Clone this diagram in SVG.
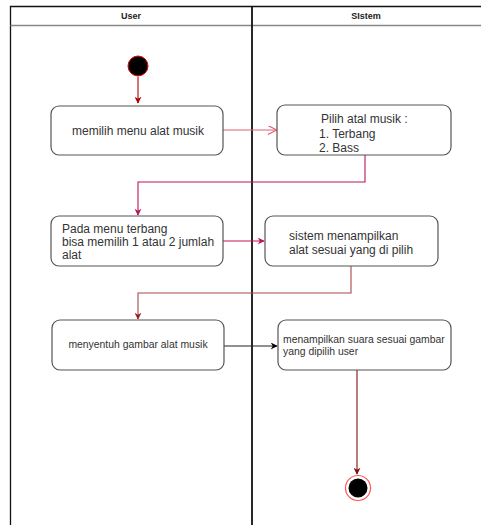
<svg xmlns="http://www.w3.org/2000/svg" width="481" height="525" viewBox="0 0 481 525">
<style>
.node rect{fill:#fff;stroke:#555;stroke-width:1.2}
.t{font-family:"Liberation Sans",Arial,sans-serif;fill:#333}
.h{font-family:"Liberation Sans",Arial,sans-serif;font-weight:bold;font-size:9px;fill:#222;text-anchor:middle}
.c{fill:none;stroke-width:1.1}
</style>
<defs>
<marker id="a1" viewBox="0 0 10 10" refX="9" refY="5" markerWidth="7" markerHeight="7" orient="auto" markerUnits="userSpaceOnUse"><path d="M0,0 L10,5 L0,10 L3,5 Z" fill="#b20000"/></marker>
<marker id="a2" viewBox="0 0 10 10" refX="9" refY="5" markerWidth="9" markerHeight="9" orient="auto" markerUnits="userSpaceOnUse"><path d="M0,0 L10,5 L0,10" fill="none" stroke="#e0606e" stroke-width="1.3"/></marker>
<marker id="a3" viewBox="0 0 10 10" refX="9" refY="5" markerWidth="7" markerHeight="7" orient="auto" markerUnits="userSpaceOnUse"><path d="M0,0 L10,5 L0,10 L3,5 Z" fill="#b8155a"/></marker>
<marker id="a4" viewBox="0 0 10 10" refX="9" refY="5" markerWidth="7" markerHeight="7" orient="auto" markerUnits="userSpaceOnUse"><path d="M0,0 L10,5 L0,10 L3,5 Z" fill="#c2105a"/></marker>
<marker id="a5" viewBox="0 0 10 10" refX="9" refY="5" markerWidth="7" markerHeight="7" orient="auto" markerUnits="userSpaceOnUse"><path d="M0,0 L10,5 L0,10 L3,5 Z" fill="#9a2020"/></marker>
<marker id="a6" viewBox="0 0 10 10" refX="9" refY="5" markerWidth="7" markerHeight="7" orient="auto" markerUnits="userSpaceOnUse"><path d="M0,0 L10,5 L0,10 L3,5 Z" fill="#000"/></marker>
<marker id="a7" viewBox="0 0 10 10" refX="9" refY="5" markerWidth="7" markerHeight="7" orient="auto" markerUnits="userSpaceOnUse"><path d="M0,0 L10,5 L0,10 L3,5 Z" fill="#7a1010"/></marker>
</defs>
<rect width="481" height="525" fill="#fff"/>
<g id="swimlanes">
<path d="M10.5,525 V6.5 H481" fill="none" stroke="#111" stroke-width="1.3"/>
<line x1="10.5" y1="25.5" x2="481" y2="25.5" stroke="#888" stroke-width="1.3"/>
<line x1="252" y1="6" x2="252" y2="525" stroke="#111" stroke-width="1.8"/>
<text class="h" x="131" y="19">User</text>
<text class="h" x="366" y="19">SIstem</text>
</g>
<g id="connectors">
<path class="c" d="M138,77 V103" stroke="#b20000" marker-end="url(#a1)"/>
<path class="c" d="M223,130 H276" stroke="#e0606e" marker-end="url(#a2)"/>
<path class="c" d="M365,155 V182 H138 V215" stroke="#b8155a" marker-end="url(#a3)"/>
<path class="c" d="M223,241 H264" stroke="#c2105a" marker-end="url(#a4)"/>
<path class="c" d="M351,266 V293 H138 V319" stroke="#a84848" marker-end="url(#a5)"/>
<path class="c" d="M224,346 H277" stroke="#222" marker-end="url(#a6)"/>
<path class="c" d="M357,370 V474" stroke="#7a1010" marker-end="url(#a7)"/>
</g>
<g id="start"><circle cx="138" cy="66" r="10" fill="#000" stroke="#e00" stroke-width="1"/></g>
<g id="n1" class="node"><rect x="51" y="106" width="172" height="49" rx="8"/><text class="t" x="138" y="135" font-size="12" text-anchor="middle">memilih menu alat musik</text></g>
<g id="n2" class="node"><rect x="277" y="105" width="174" height="50" rx="8"/>
<text class="t" font-size="12"><tspan x="321" y="123">Pilih atal musik :</tspan><tspan x="319" y="138">1. Terbang</tspan><tspan x="319" y="152">2. Bass</tspan></text></g>
<g id="n3" class="node"><rect x="51" y="216" width="172" height="50" rx="8"/>
<text class="t" font-size="12"><tspan x="62" y="233">Pada menu terbang</tspan><tspan x="62" y="246">bisa memilih 1 atau 2 jumlah</tspan><tspan x="62" y="259">alat</tspan></text></g>
<g id="n4" class="node"><rect x="265" y="216" width="173" height="50" rx="8"/>
<text class="t" font-size="12"><tspan x="289" y="240">sistem menampilkan</tspan><tspan x="289" y="254">alat sesuai yang di pilih</tspan></text></g>
<g id="n5" class="node"><rect x="52" y="320" width="172" height="50" rx="8"/><text class="t" x="138" y="348" font-size="10.4" text-anchor="middle">menyentuh gambar alat musik</text></g>
<g id="n6" class="node"><rect x="278" y="320" width="173" height="50" rx="8"/>
<text class="t" font-size="10.4"><tspan x="283" y="343">menampilkan suara sesuai gambar</tspan><tspan x="283" y="355">yang dipilih user</tspan></text></g>
<g id="end"><circle cx="358" cy="488" r="12.5" fill="#fff" stroke="#f55" stroke-width="1.2"/><circle cx="358" cy="488" r="9.5" fill="#000"/></g>
</svg>
